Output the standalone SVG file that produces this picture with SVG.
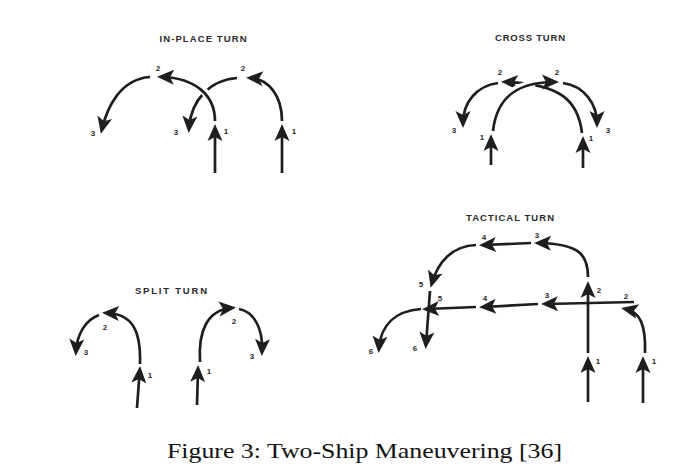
<svg xmlns="http://www.w3.org/2000/svg" width="696" height="468" viewBox="0 0 696 468">
<style>
.t{font-family:"Liberation Sans",Arial,sans-serif;font-weight:bold;font-size:9.5px;fill:#2a2a2a;text-anchor:middle}
.n{font-family:"Liberation Sans",Arial,sans-serif;font-weight:bold;font-size:8px;fill:#2a2a2a;text-anchor:middle}
.p{fill:none;stroke:#1e1e1e;stroke-width:2.7;marker-end:url(#ah)}
.halo{fill:none;stroke:#fff;stroke-width:8}
.cap{font-family:"Liberation Serif","Times New Roman",serif;font-size:22px;fill:#111}
</style>
<defs>
<marker id="ah" markerUnits="userSpaceOnUse" viewBox="-14 -8 20 16" refX="0" refY="0" markerWidth="20" markerHeight="16" orient="auto" overflow="visible">
<path d="M5,0 L-12,-7.5 L-8,0 L-12,7.5 Z" fill="#1e1e1e"/>
</marker>
</defs>
<rect width="696" height="468" fill="#fff"/>

<g id="inplace">
<text class="t" x="203" y="42" textLength="87">IN-PLACE TURN</text>
<g id="inplace-shipR">
<path class="p" d="M282,173 L282,129"/>
<path class="p" d="M282,121 C282,95 268,79 251,78"/>
<path class="p" d="M237,78 C210,80 191,100 189,128"/>
<text class="n" x="294" y="134">1</text>
<text class="n" x="243" y="71">2</text>
<text class="n" x="176" y="135">3</text>
</g>
<g id="inplace-shipL">
<path class="p" d="M215,173 L215,129"/>
<path class="halo" d="M214,110 C210,92 195,80 175,78"/>
<path class="p" d="M215,121 C215,95 195,78 162,77"/>
<path class="p" d="M150,77 C120,79 107,108 102,129"/>
<text class="n" x="226" y="134">1</text>
<text class="n" x="158" y="71">2</text>
<text class="n" x="93" y="136">3</text>
</g>
</g>

<g id="cross">
<text class="t" x="530" y="41" textLength="70">CROSS TURN</text>
<g id="cross-shipR">
<path class="p" d="M583,168 L583,141"/>
<path class="p" d="M582,133 C578,100 560,84 506,82"/>
<path class="p" d="M498,83 C476,86 463,103 463,123"/>
<text class="n" x="591" y="141">1</text>
<text class="n" x="500" y="75">2</text>
<text class="n" x="454" y="133">3</text>
</g>
<g id="cross-shipL">
<path class="p" d="M491,165 L491,139"/>
<path class="halo" d="M497,110 C505,95 518,86 535,84" stroke-width="5"/>
<path class="p" d="M493,131 C497,95 520,82 554,82"/>
<path class="p" d="M563,83 C585,86 597,105 597,123"/>
<text class="n" x="482" y="140">1</text>
<text class="n" x="557" y="75">2</text>
<text class="n" x="608" y="133">3</text>
</g>
</g>

<g id="split">
<text class="t" x="171" y="294" textLength="72">SPLIT TURN</text>
<g id="split-shipL">
<path class="p" d="M137,408 L139.7,371"/>
<path class="p" d="M140,364 C141,330 132,314 107,313"/>
<path class="p" d="M99,315 C85,320 77,335 76,351"/>
<text class="n" x="150" y="378">1</text>
<text class="n" x="105" y="330">2</text>
<text class="n" x="86" y="355">3</text>
</g>
<g id="split-shipR">
<path class="p" d="M197,405 L198,370"/>
<path class="p" d="M200,362 C198,330 208,310 231,308"/>
<path class="p" d="M239,309 C255,312 263,330 262,351"/>
<text class="n" x="209" y="374">1</text>
<text class="n" x="234" y="324">2</text>
<text class="n" x="252" y="359">3</text>
</g>
</g>

<g id="tactical">
<text class="t" x="510" y="221" textLength="88">TACTICAL TURN</text>
<g id="tactical-shipA">
<path class="p" d="M588,402 L588,361"/>
<path class="p" d="M588,353 L588,286"/>
<path class="p" d="M588,277 C588,255 580,244 539,243"/>
<path class="p" d="M531,243 L484,245"/>
<path class="p" d="M476,245 C452,246 438,262 432,283"/>
<path class="p" d="M430,291 L426,344"/>
<text class="n" x="598" y="364">1</text>
<text class="n" x="599" y="293">2</text>
<text class="n" x="537" y="238">3</text>
<text class="n" x="484" y="240">4</text>
<text class="n" x="421" y="287">5</text>
<text class="n" x="415" y="351">6</text>
</g>
<g id="tactical-shipB">
<path class="p" d="M643,403 L643,361"/>
<path class="p" d="M645,353 C646,325 640,312 626,309"/>
<path class="p" d="M634,302 L546,304"/>
<path class="p" d="M538,304 L484,307"/>
<path class="p" d="M476,307 L427,309"/>
<path class="p" d="M421,309 C395,311 381,325 379,348"/>
<text class="n" x="654" y="364">1</text>
<text class="n" x="626" y="299">2</text>
<text class="n" x="547" y="298">3</text>
<text class="n" x="485" y="301">4</text>
<text class="n" x="440" y="301">5</text>
<text class="n" x="371" y="354">6</text>
</g>
</g>

<text class="cap" x="167" y="458" textLength="395" lengthAdjust="spacingAndGlyphs">Figure 3: Two-Ship Maneuvering [36]</text>
</svg>
